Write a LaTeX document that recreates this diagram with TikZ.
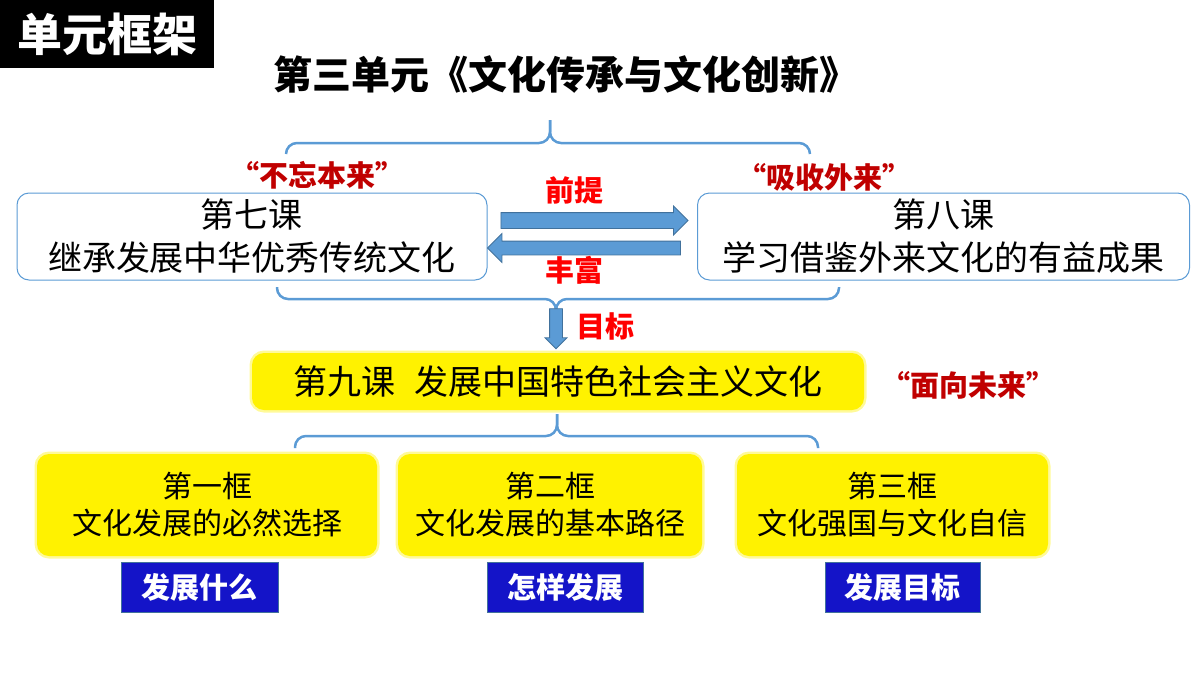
\documentclass[tikz,border=0pt]{standalone}
\usepackage{fontspec}
\setmainfont{Noto Sans CJK SC}
\usetikzlibrary{shapes.arrows}
\definecolor{lineblue}{HTML}{5B9BD5}
\definecolor{arrowedge}{HTML}{41719C}
\definecolor{quotered}{HTML}{C00000}
\definecolor{tagblue}{HTML}{1414C8}
\begin{document}
\begin{tikzpicture}[x=1pt, y=-1pt,
  lessonbox/.style = {draw=lineblue, line width=1pt, rounded corners=12pt,
    fill=white, align=center, inner sep=0pt,
    font=\fontsize{34}{43}\selectfont},
  yellowbox/.style = {fill=yellow, rounded corners=12pt, align=center,
    inner sep=0pt, preaction={draw=yellow!40, line width=5pt}},
  tagbox/.style = {fill=tagblue, draw=arrowedge, line width=1pt, text=white,
    inner sep=0pt, minimum height=50pt,
    font=\fontsize{29}{29}\selectfont\bfseries},
  quotelabel/.style = {text=quotered, font=\fontsize{29}{29}\selectfont\bfseries},
  redlabel/.style = {text=red, font=\fontsize{29}{29}\selectfont\bfseries},
  bracket/.style = {draw=lineblue, line width=2.5pt, rounded corners=11pt},
  fatarrow/.style = {single arrow, fill=lineblue, draw=arrowedge,
    line width=.8pt, inner sep=0pt, single arrow head indent=0pt}
  ]
  \useasboundingbox (0,0) rectangle (1200,675);

  % heading
  \node[fill=black, text=white, font=\fontsize{45}{45}\selectfont\bfseries,
    minimum width=214pt, minimum height=68pt, inner sep=0pt] (head)
    at (107,34) {单元框架};
  \node[font=\fontsize{39}{39}\selectfont\bfseries] (title)
    at (566,75) {第三单元《文化传承与文化创新》};

  % upper brace
  \coordinate (top tip) at (550,120);
  \draw[bracket] (286,154) |- (550,143) -- (top tip);
  \draw[bracket] (810,154) |- (550,143) -- (top tip);

  % lessons 7 and 8
  \node[quotelabel] (past) at (317,175) {“不忘本来”};
  \node[quotelabel] (abroad) at (824,177) {“吸收外来”};
  \node[lessonbox, minimum width=470pt, minimum height=87pt] (l7)
    at (252,236.5) {第七课\\继承发展中华优秀传统文化};
  \node[lessonbox, minimum width=492pt, minimum height=87pt] (l8)
    at (943.5,236.5) {第八课\\学习借鉴外来文化的有益成果};

  \node[fatarrow, minimum height=187pt, text height=7.5pt, text depth=7.5pt,
    single arrow head extend=6.5pt] (to8) at (590.5,220.5) {};
  \node[fatarrow, minimum height=193pt, text height=6.5pt, text depth=6.5pt,
    single arrow head extend=7.5pt, rotate=180] (to7) at (587.5,248) {};
  \node[redlabel] (premise) at (574,190) {前提};
  \node[redlabel] (enrich) at (574,270) {丰富};

  % middle brace and arrow down
  \coordinate (mid tip) at (556,306);
  \draw[bracket] (277,287) |- (556,299) -- (mid tip);
  \draw[bracket] (839,287) |- (556,299) -- (mid tip);
  \node[fatarrow, minimum height=40pt, text height=6pt, text depth=6pt,
    single arrow head extend=4.5pt, rotate=-90] (goal arrow)
    at (556,325.5) {};
  \node[redlabel] (goal) at (605,326) {目标};

  % lesson 9
  \node[yellowbox, minimum width=612pt, minimum height=57pt,
    font=\fontsize{34}{34}\selectfont] (l9)
    at (558,381.5) {第九课\hspace{0.55em}发展中国特色社会主义文化};
  \node[quotelabel] (future) at (968,385) {“面向未来”};

  % lower brace
  \coordinate (low tip) at (557,414);
  \draw[bracket] (295,448) |- (557,436) -- (low tip);
  \draw[bracket] (818,448) |- (557,436) -- (low tip);

  % three frames
  \node[yellowbox, minimum width=340pt, minimum height=102pt,
    font=\fontsize{30}{37}\selectfont] (k1)
    at (207,505) {第一框\\文化发展的必然选择};
  \node[yellowbox, minimum width=304pt, minimum height=102pt,
    font=\fontsize{30}{37}\selectfont] (k2)
    at (550,505) {第二框\\文化发展的基本路径};
  \node[yellowbox, minimum width=311pt, minimum height=102pt,
    font=\fontsize{30}{37}\selectfont] (k3)
    at (892.5,505) {第三框\\文化强国与文化自信};

  \node[tagbox, minimum width=157pt] (what) at (199.5,587) {发展什么};
  \node[tagbox, minimum width=156pt] (how) at (565,587) {怎样发展};
  \node[tagbox, minimum width=155pt] (aim) at (902.5,587) {发展目标};
\end{tikzpicture}
\end{document}
